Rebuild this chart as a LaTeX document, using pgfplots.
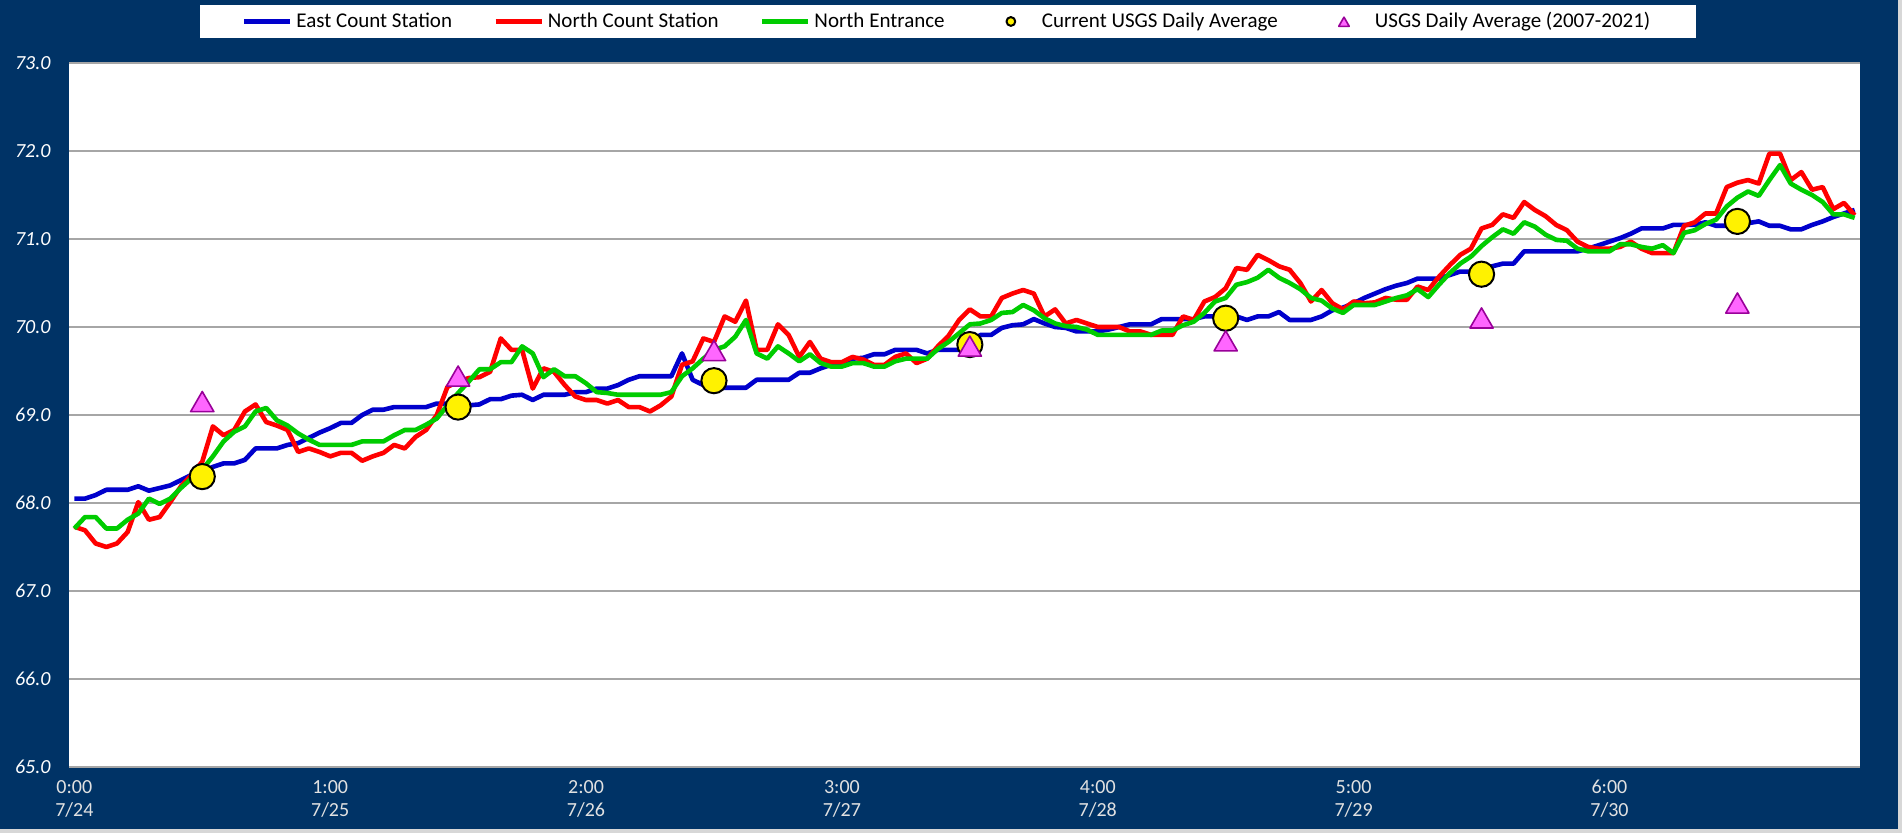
\documentclass[border=0pt]{standalone}
\usepackage{pgfplots}
\pgfplotsset{compat=1.18}
\usepackage{pgfplotstable}
\usepackage{fontspec}
\setmainfont{Carlito}
\definecolor{navy}{RGB}{0,51,102}
\definecolor{eastblue}{RGB}{0,0,204}
\definecolor{northred}{RGB}{255,0,0}
\definecolor{entgreen}{RGB}{0,204,0}
\definecolor{triFill}{RGB}{255,102,255}
\definecolor{triDraw}{RGB}{153,0,153}
\definecolor{gridgray}{RGB}{166,166,166}
\definecolor{framegray}{RGB}{215,215,215}
\definecolor{xlab}{RGB}{225,225,225}

\pgfplotsset{
  markleg/.style 2 args={legend image code/.code={\path[draw=none,fill=none] (0pt,0pt) -- (26pt,0pt); \draw[##1, mark size=#1, every mark/.append style={yshift=#2}] plot coordinates {(12.5pt,0pt)};}},
  lineleg/.style={legend image code/.code={\draw[##1] (0pt,0pt) -- (23pt,0pt);}},
}

\pgfplotstableread{
h east north entrance
0 68.05 67.73 67.71
1 68.05 67.69 67.84
2 68.09 67.54 67.84
3 68.15 67.50 67.71
4 68.15 67.54 67.71
5 68.15 67.67 67.81
6 68.19 68.01 67.88
7 68.14 67.81 68.05
8 68.17 67.84 67.99
9 68.20 68.01 68.05
10 68.26 68.19 68.17
11 68.32 68.32 68.28
12 68.36 68.47 68.38
13 68.41 68.87 68.53
14 68.45 68.77 68.70
15 68.45 68.83 68.81
16 68.49 69.04 68.87
17 68.62 69.12 69.04
18 68.62 68.92 69.08
19 68.62 68.88 68.94
20 68.66 68.83 68.88
21 68.68 68.58 68.79
22 68.74 68.62 68.72
23 68.80 68.58 68.66
24 68.85 68.53 68.66
25 68.91 68.57 68.66
26 68.91 68.57 68.66
27 69.00 68.48 68.70
28 69.06 68.53 68.70
29 69.06 68.57 68.70
30 69.09 68.66 68.77
31 69.09 68.62 68.83
32 69.09 68.75 68.83
33 69.09 68.83 68.89
34 69.13 69.00 68.96
35 69.13 69.32 69.11
36 69.12 69.38 69.25
37 69.11 69.42 69.38
38 69.12 69.43 69.52
39 69.18 69.49 69.52
40 69.18 69.87 69.60
41 69.22 69.74 69.60
42 69.23 69.74 69.78
43 69.17 69.30 69.70
44 69.23 69.53 69.43
45 69.23 69.49 69.52
46 69.23 69.34 69.44
47 69.26 69.21 69.44
48 69.26 69.17 69.36
49 69.30 69.17 69.26
50 69.30 69.13 69.25
51 69.34 69.17 69.23
52 69.40 69.09 69.23
53 69.44 69.09 69.23
54 69.44 69.04 69.23
55 69.44 69.11 69.23
56 69.44 69.21 69.26
57 69.70 69.57 69.44
58 69.40 69.61 69.53
59 69.34 69.87 69.64
60 69.31 69.83 69.74
61 69.31 70.12 69.78
62 69.31 70.06 69.89
63 69.31 70.30 70.08
64 69.40 69.74 69.70
65 69.40 69.74 69.64
66 69.40 70.03 69.78
67 69.40 69.91 69.70
68 69.48 69.66 69.61
69 69.48 69.83 69.69
70 69.53 69.64 69.59
71 69.57 69.60 69.55
72 69.59 69.60 69.55
73 69.64 69.66 69.59
74 69.65 69.63 69.59
75 69.69 69.57 69.55
76 69.69 69.57 69.55
77 69.74 69.66 69.61
78 69.74 69.70 69.64
79 69.74 69.59 69.64
80 69.70 69.64 69.64
81 69.74 69.78 69.75
82 69.74 69.90 69.83
83 69.74 70.08 69.93
84 69.80 70.20 70.03
85 69.91 70.12 70.04
86 69.91 70.12 70.08
87 69.99 70.33 70.16
88 70.02 70.38 70.17
89 70.03 70.42 70.25
90 70.09 70.38 70.19
91 70.04 70.12 70.10
92 70.00 70.20 70.04
93 69.99 70.04 70.01
94 69.95 70.08 70.00
95 69.95 70.04 69.97
96 69.95 70.00 69.91
97 69.97 70.00 69.91
98 70.00 70.00 69.91
99 70.03 69.95 69.91
100 70.03 69.95 69.91
101 70.03 69.91 69.91
102 70.09 69.91 69.96
103 70.09 69.91 69.96
104 70.09 70.12 70.02
105 70.09 70.08 70.06
106 70.12 70.29 70.16
107 70.12 70.34 70.29
108 70.12 70.44 70.33
109 70.12 70.67 70.48
110 70.08 70.65 70.51
111 70.12 70.82 70.56
112 70.12 70.76 70.65
113 70.17 70.69 70.56
114 70.08 70.65 70.50
115 70.08 70.50 70.43
116 70.08 70.29 70.33
117 70.12 70.42 70.30
118 70.19 70.27 70.21
119 70.22 70.20 70.16
120 70.27 70.29 70.25
121 70.33 70.27 70.25
122 70.38 70.28 70.25
123 70.43 70.33 70.29
124 70.47 70.31 70.33
125 70.50 70.31 70.36
126 70.55 70.46 70.43
127 70.55 70.42 70.34
128 70.55 70.57 70.48
129 70.59 70.70 70.61
130 70.63 70.82 70.72
131 70.63 70.89 70.80
132 70.65 71.12 70.92
133 70.69 71.16 71.02
134 70.72 71.28 71.11
135 70.72 71.24 71.06
136 70.86 71.42 71.19
137 70.86 71.33 71.14
138 70.86 71.26 71.05
139 70.86 71.16 70.99
140 70.86 71.10 70.98
141 70.86 70.97 70.89
142 70.89 70.91 70.86
143 70.93 70.89 70.86
144 70.97 70.89 70.86
145 71.01 70.91 70.94
146 71.06 70.97 70.94
147 71.12 70.89 70.91
148 71.12 70.84 70.89
149 71.12 70.84 70.93
150 71.16 70.84 70.84
151 71.16 71.15 71.07
152 71.16 71.19 71.10
153 71.19 71.29 71.17
154 71.15 71.29 71.22
155 71.15 71.59 71.37
156 71.15 71.64 71.47
157 71.18 71.67 71.54
158 71.20 71.63 71.49
159 71.15 71.97 71.67
160 71.15 71.97 71.84
161 71.11 71.67 71.63
162 71.11 71.76 71.56
163 71.16 71.56 71.50
164 71.20 71.59 71.42
165 71.25 71.34 71.28
166 71.29 71.41 71.28
167 71.33 71.27 71.24
}\hourly

\pgfplotstableread{
h cur hist
12 68.30 69.16
36 69.09 69.45
60 69.39 69.74
84 69.80 69.79
108 70.10 69.85
132 70.60 70.11
156 71.20 70.28
}\daily

\begin{document}
\begin{tikzpicture}
\fill[navy] (0pt,0pt) rectangle (951pt,416.5pt);
\fill[framegray] (949.2pt,0pt) rectangle (951pt,416.5pt);
\fill[framegray] (0pt,0pt) rectangle (951pt,1.8pt);
\begin{axis}[
  at={(34.5pt,33pt)}, anchor=south west,
  scale only axis, width=895.5pt, height=352pt,
  xmin=-0.5, xmax=167.5, ymin=65, ymax=73,
  axis background/.style={fill=white},
  axis line style={draw=none},
  major tick length=0pt,
  ymajorgrids, grid style={draw=gridgray, line width=1.1pt},
  ytick={65,66,67,68,69,70,71,72,73},
  yticklabels={65.0,66.0,67.0,68.0,69.0,70.0,71.0,72.0,73.0},
  yticklabel style={font=\fontsize{10}{12}\selectfont\itshape, text=white, anchor=east, xshift=-5.7pt},
  xtick={0,24,48,72,96,120,144},
  xticklabels={{0:00\\7/24},{1:00\\7/25},{2:00\\7/26},{3:00\\7/27},{4:00\\7/28},{5:00\\7/29},{6:00\\7/30}},
  xticklabel style={align=center, font=\fontsize{10}{11.5}\selectfont, text=xlab, yshift=-3pt},
  legend columns=5,
  legend style={at={(0.4908,1.059)}, anchor=center, draw=none, fill=white,
    font=\fontsize{10.5}{12}\selectfont, inner xsep=21pt, inner ysep=1.5pt,
    /tikz/every even column/.append style={column sep=18.6pt}},
  every axis plot/.append style={line join=round},
]
\addplot[eastblue, line width=2.3pt, lineleg] table[x=h, y=east] {\hourly};
\addlegendentry{East Count Station}
\addplot[northred, line width=2.3pt, lineleg] table[x=h, y=north] {\hourly};
\addlegendentry{North Count Station}
\addplot[entgreen, line width=2.3pt, lineleg] table[x=h, y=entrance] {\hourly};
\addlegendentry{North Entrance}
\addplot[only marks, mark=*, mark size=6.3pt, mark options={fill=yellow, draw=black, line width=1pt}, markleg={2.2pt}{0pt}]
  table[x=h, y=cur] {\daily};
\addlegendentry{Current USGS Daily Average}
\addplot[only marks, mark=triangle*, mark size=6.7pt, mark options={fill=triFill, draw=triDraw, line width=0.8pt, yshift=-2pt}, markleg={3.05pt}{1.1pt}]
  table[x=h, y=hist] {\daily};
\addlegendentry{USGS Daily Average (2007-2021)}
\end{axis}
\pgfresetboundingbox
\useasboundingbox (0pt,0pt) rectangle (951pt,416.5pt);
\end{tikzpicture}
\end{document}
